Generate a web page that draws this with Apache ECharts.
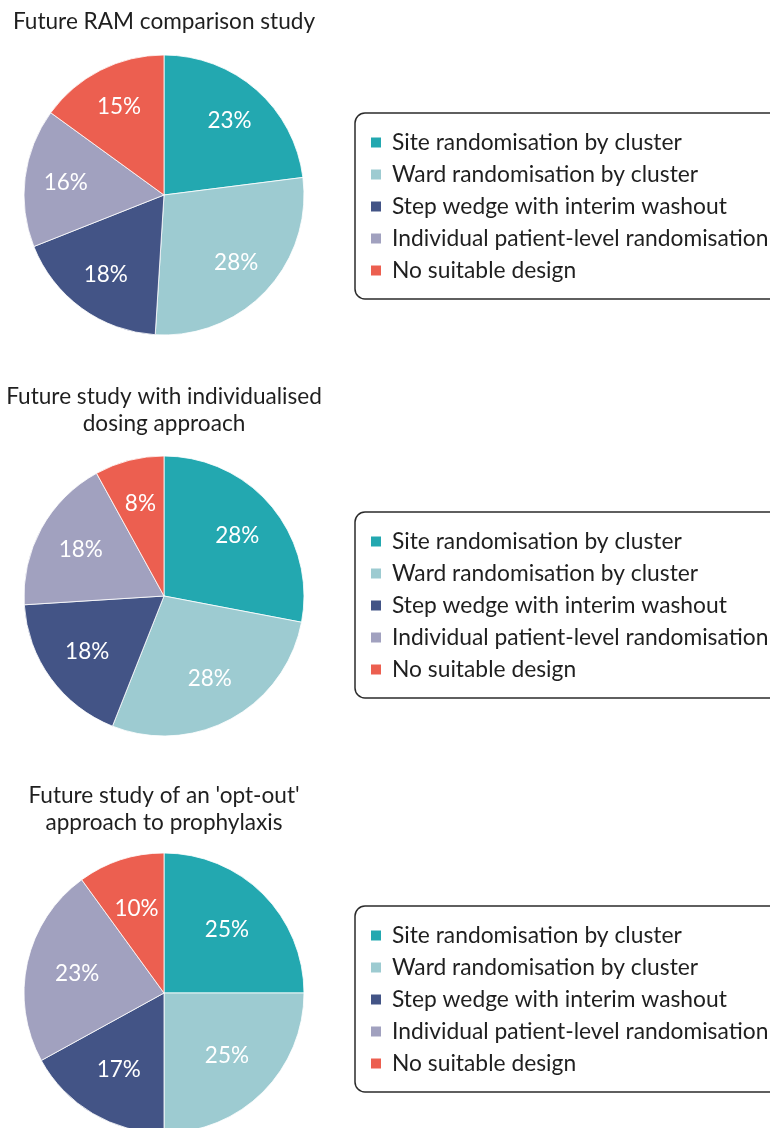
<!DOCTYPE html>
<html>
<head>
    <meta charset="utf-8">
    <title>Future study designs</title>
    <script src="https://cdn.jsdelivr.net/npm/echarts@6/dist/echarts.min.js"></script>
    <style>
        html, body { margin: 0; padding: 0; background: #fff; }
    </style>
</head>
<body>
    <div id="main" style="width: 770px;height:1128px;"></div>
    <script type="text/javascript">
        // 设计方案（图例）
        var designs = ['Site randomisation by cluster', 'Ward randomisation by cluster', 'Step wedge with interim washout', 'Individual patient-level randomisation', 'No suitable design'];
        var colors = ['#23a8b0', '#9dcbd1', '#435486', '#a1a1bf', '#ec5f50'];

        // 每个研究的百分比
        var ramStudy = [23, 28, 18, 16, 15];
        var dosingStudy = [28, 28, 18, 18, 8];
        var optOutStudy = [25, 25, 17, 23, 10];

        var titles = ['Future RAM comparison study', 'Future study with individualised\ndosing approach', 'Future study of an \'opt-out\'\napproach to prophylaxis'];

        var font = 'Lato, "Noto Sans", sans-serif';
        var centersY = [195, 596, 993];
        var labelInner = [52, 44, 32];
        var titleY = [22, 410, 809];
        var legendTop = [113, 512, 906];
        var studies = [ramStudy, dosingStudy, optOutStudy];

        var myChart = echarts.init(document.getElementById('main'));

        function toData(vals) {
            return vals.map(function (v, i) {
                return { name: designs[i], value: v, itemStyle: { color: colors[i] } };
            });
        }

        var series = [];
        var legends = [];
        var graphics = [];
        studies.forEach(function (vals, k) {
            // 扇形
            series.push({
                type: 'pie',
                center: [164, centersY[k]],
                radius: 140,
                startAngle: 90,
                clockwise: true,
                silent: true,
                animation: false,
                label: { show: false },
                labelLine: { show: false },
                itemStyle: { borderColor: '#ffffff', borderWidth: 0.8 },
                data: toData(vals)
            });
            // 标签层（透明），把标签推到扇形外侧一些
            series.push({
                type: 'pie',
                center: [164, centersY[k]],
                radius: [labelInner[k], 140],
                startAngle: 90,
                clockwise: true,
                silent: true,
                animation: false,
                legendHoverLink: false,
                label: {
                    show: true,
                    position: 'inside',
                    formatter: '{c}%',
                    color: '#ffffff',
                    fontFamily: font,
                    fontSize: 22.5
                },
                labelLine: { show: false },
                itemStyle: { color: 'rgba(0,0,0,0)' },
                data: vals.map(function (v, i) { return { name: designs[i], value: v }; })
            });
            legends.push({
                data: designs,
                orient: 'vertical',
                left: 355,
                top: legendTop[k],
                icon: 'rect',
                itemWidth: 12,
                itemHeight: 12,
                itemGap: 7,
                padding: [17, 20, 16, 14],
                borderColor: '#2b2b2b',
                borderWidth: 1.5,
                borderRadius: 10,
                selectedMode: false,
                textStyle: {
                    color: '#1f1f1f',
                    fontFamily: font,
                    fontSize: 22.8,
                    lineHeight: 25,
                    padding: [0, 0, 0, 5]
                }
            });
            graphics.push({
                type: 'text',
                x: 164,
                y: titleY[k],
                style: {
                    text: titles[k],
                    fill: '#1f1f1f',
                    font: '22.6px ' + font,
                    textAlign: 'center',
                    textVerticalAlign: 'middle',
                    lineHeight: 27
                }
            });
        });

        var option = {
            backgroundColor: '#ffffff',
            animation: false,
            color: colors,
            legend: legends,
            graphic: graphics,
            series: series
        };

        myChart.setOption(option);
    </script>
</body>
</html>
